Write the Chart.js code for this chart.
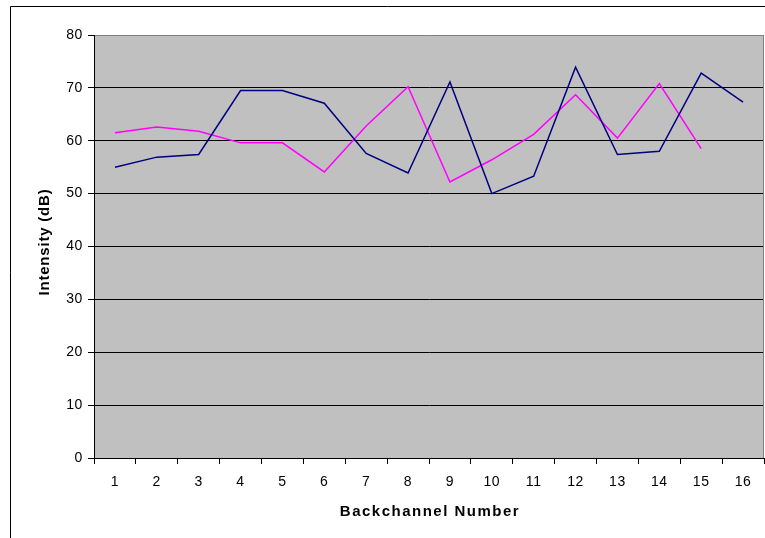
<!DOCTYPE html>
<html>
<head>
<meta charset="utf-8">
<script src="https://cdn.jsdelivr.net/npm/chart.js@4/dist/chart.umd.min.js"></script>
<style>
  html, body { margin: 0; padding: 0; background: #fff; }
  #wrap { width: 765px; height: 538px; position: relative; }
</style>
</head>
<body>
<div id="wrap"><canvas id="c" width="765" height="538"></canvas></div>
<script>
const categories = ['1','2','3','4','5','6','7','8','9','10','11','12','13','14','15','16'];
const navySeries = [55.0, 56.9, 57.4, 69.5, 69.5, 67.1, 57.6, 53.9, 71.1, 50.0, 53.3, 73.9, 57.4, 58.0, 72.8, 67.3];
const magentaSeries = [61.5, 62.6, 61.8, 59.6, 59.6, 54.1, 62.8, 70.2, 52.2, 56.4, 61.2, 68.7, 60.5, 70.8, 58.5, null];
const yTicks = [0, 10, 20, 30, 40, 50, 60, 70, 80];
const xTitle = 'Backchannel Number';
const yTitle = 'Intensity (dB)';

const FONT = '"Liberation Sans", Arial, sans-serif';

const decor = {
  id: 'decor',
  beforeLayout(chart) { chart.ctx.letterSpacing = '0.6px'; },
  beforeDraw(chart) {
    const { ctx, chartArea: a } = chart;
    ctx.letterSpacing = '0.6px';
    ctx.save();
    ctx.fillStyle = '#C0C0C0';
    ctx.fillRect(a.left, a.top, a.right - a.left, a.bottom - a.top);
    ctx.restore();
  },
  afterDraw(chart) {
    const { ctx, chartArea: a } = chart;
    ctx.save();
    ctx.strokeStyle = '#808080';
    ctx.lineWidth = 1;
    ctx.beginPath();
    ctx.moveTo(a.right - 0.5, a.top);
    ctx.lineTo(a.right - 0.5, a.bottom);
    ctx.stroke();
    // outer border
    ctx.strokeStyle = '#000';
    ctx.beginPath();
    ctx.moveTo(10.5, 538);
    ctx.lineTo(10.5, 6.5);
    ctx.lineTo(765, 6.5);
    ctx.stroke();
    // titles
    ctx.fillStyle = '#000';
    ctx.font = 'bold 15px ' + FONT;
    ctx.textAlign = 'center';
    ctx.textBaseline = 'middle';
    ctx.letterSpacing = '1.5px';
    ctx.fillText(xTitle, (a.left + a.right) / 2 + 1, 512);
    ctx.letterSpacing = '0.8px';
    ctx.translate(45, 242);
    ctx.rotate(-Math.PI / 2);
    ctx.fillText(yTitle, 0, 0);
    ctx.restore();
  }
};

new Chart(document.getElementById('c'), {
  type: 'line',
  data: {
    labels: categories,
    datasets: [
      { data: navySeries, borderColor: '#000080', borderWidth: 1.5, pointRadius: 0, tension: 0, fill: false, spanGaps: false },
      { data: magentaSeries, borderColor: '#FF00FF', borderWidth: 1.5, pointRadius: 0, tension: 0, fill: false, spanGaps: false }
    ]
  },
  options: {
    responsive: false,
    animation: false,
    devicePixelRatio: 1,
    layout: { padding: { left: 0, top: 35, right: 1, bottom: 0 } },
    plugins: { legend: { display: false }, tooltip: { enabled: false } },
    scales: {
      x: {
        type: 'category',
        offset: true,
        afterFit(s) { s.height = 80; },
        grid: { offset: true, drawOnChartArea: false, drawTicks: true, tickLength: 6, color: '#000', tickColor: '#000' },
        border: { display: true, color: '#000', width: 1 },
        ticks: { color: '#000', font: { family: FONT, size: 14 }, padding: 10, maxRotation: 0, autoSkip: false },
        title: { display: false }
      },
      y: {
        min: 0, max: 80,
        afterFit(s) { s.width = 94; },
        afterBuildTicks(s) { s.ticks = yTicks.map(v => ({ value: v })); },
        grid: {
          drawTicks: true, tickLength: 6,
          color: (c) => (c.tick && c.tick.value === 80) ? '#808080' : '#000',
          tickColor: '#000', lineWidth: 1
        },
        border: { display: true, color: '#000', width: 1 },
        ticks: { color: '#000', font: { family: FONT, size: 14 }, padding: 5 },
        title: { display: false }
      }
    }
  },
  plugins: [decor]
});
</script>
</body>
</html>
